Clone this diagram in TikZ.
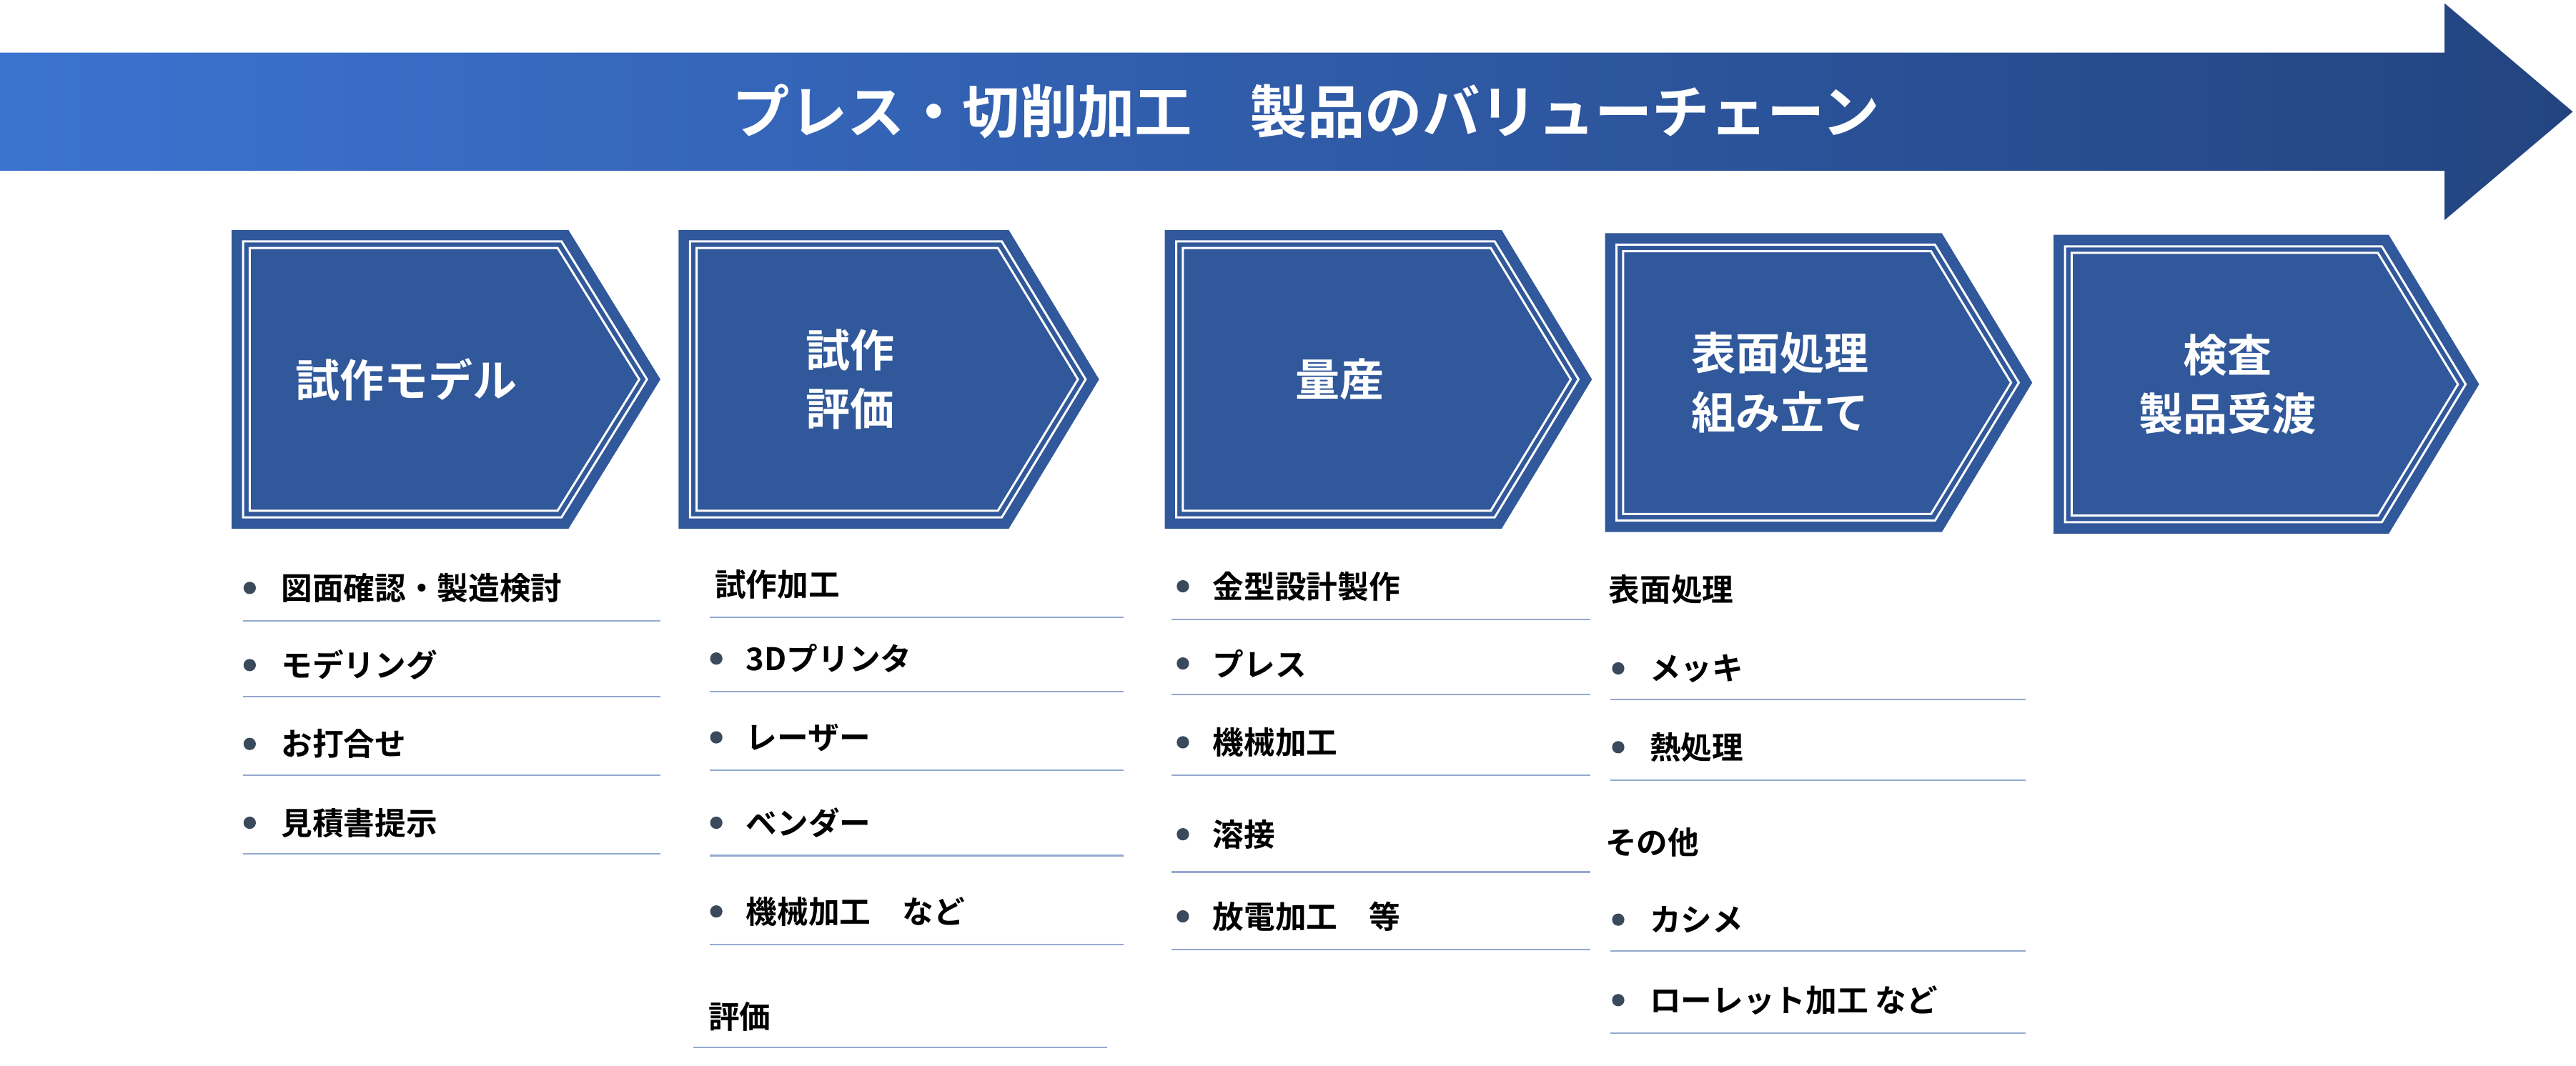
\documentclass[tikz,border=0pt]{standalone}
\usepackage{fontspec}
\setmainfont{Noto Sans CJK JP}[BoldFont={Noto Sans CJK JP Bold}]
\definecolor{boxblue}{HTML}{30589A}
\definecolor{arrL}{HTML}{3C73D0}
\definecolor{arrR}{HTML}{234480}
\definecolor{rule}{HTML}{93A9CF}
\definecolor{dot}{HTML}{3A4A5C}
\newcommand\mychev[7]{%
  \fill[boxblue] (#1,#2)--(#5,#2)--(#3,{(#2+#4)/2})--(#5,#4)--(#1,#4)--cycle;
  \foreach \d in {7,11}{
    \draw[white,line width=1.3pt] ({#1+\d},{#2+\d})--({#5-0.6*\d},{#2+\d})--({#3-1.17*\d},{(#2+#4)/2})--({#5-0.6*\d},{#4-\d})--({#1+\d},{#4-\d})--cycle;}
  \node[boxtxt] (#6) at ({(#1+#5)/2+4},{(#2+#4)/2}) {#7};}
\tikzset{
  boxtxt/.style={text=white,font=\bfseries\fontsize{27}{36}\selectfont,align=center,inner sep=0},
  itm/.style={anchor=west,font=\bfseries\fontsize{19}{22}\selectfont,inner sep=0},
  bul/.style={circle,fill=dot,inner sep=0,minimum size=7.5pt},
  ln/.style={draw=rule,line width=0.9pt}
}
\begin{document}
\begin{tikzpicture}[x=1pt,y=-1pt]
\useasboundingbox (0,0) rectangle (1568,649);
% big arrow
\shade[left color=arrL,right color=arrR] (0,32)--(1488,32)--(1488,2)--(1566,68)--(1488,134)--(1488,104)--(0,104)--cycle;
\node[text=white,font=\bfseries\fontsize{35}{40}\selectfont] (title) at (795,68) {プレス・切削加工\quad 製品のバリューチェーン};
% chevrons
\mychev{141}{140}{402}{322}{346}{b1}{試作モデル}
\mychev{413}{140}{669}{322}{614}{b2}{試作\\評価}
\mychev{709}{140}{969}{322}{914}{b3}{量産}
\mychev{977}{142}{1237}{324}{1182}{b4}{表面処理\\組み立て}
\mychev{1250}{143}{1509}{325}{1454}{b5}{検査\\製品受渡}
% column 1
\foreach \t/\y/\l [count=\i] in {図面確認・製造検討/358/378,モデリング/405/424,お打合せ/453/472,見積書提示/501/520}{
  \node[bul] (c1d\i) at (152,\y) {};
  \node[itm] (c1t\i) at (171,\y) {\t};
  \draw[ln] (148,\l)--(402,\l);}
% column 2
\node[itm] (c2h) at (435,356) {試作加工};
\draw[ln] (432,376)--(684,376);
\foreach \t/\y/\l [count=\i] in {3Dプリンタ/401/421,レーザー/449/469,ベンダー/501/521,機械加工\quad など/555/575}{
  \node[bul] (c2d\i) at (436,\y) {};
  \node[itm] (c2t\i) at (454,\y) {\t};
  \draw[ln] (432,\l)--(684,\l);}
\node[itm] (c2e) at (431,619) {評価};
\draw[ln] (422,638)--(674,638);
% column 3
\foreach \t/\y/\l [count=\i] in {金型設計製作/357/377,プレス/404/423,機械加工/452/472,溶接/508/531,放電加工\quad 等/558/578}{
  \node[bul] (c3d\i) at (720,\y) {};
  \node[itm] (c3t\i) at (738,\y) {\t};
  \draw[ln] (713,\l)--(968,\l);}
% column 4
\node[itm] (c4h) at (979,359) {表面処理};
\foreach \t/\y/\l [count=\i] in {メッキ/407/426,熱処理/455/475}{
  \node[bul] (c4d\i) at (985,\y) {};
  \node[itm] (c4t\i) at (1004,\y) {\t};
  \draw[ln] (980,\l)--(1233,\l);}
\node[itm] (c4o) at (977,513) {その他};
\foreach \t/\y/\l [count=\i] in {カシメ/560/579,ローレット加工 など/609/629}{
  \node[bul] (c4e\i) at (985,\y) {};
  \node[itm] (c4u\i) at (1004,\y) {\t};
  \draw[ln] (980,\l)--(1233,\l);}
\end{tikzpicture}
\end{document}
